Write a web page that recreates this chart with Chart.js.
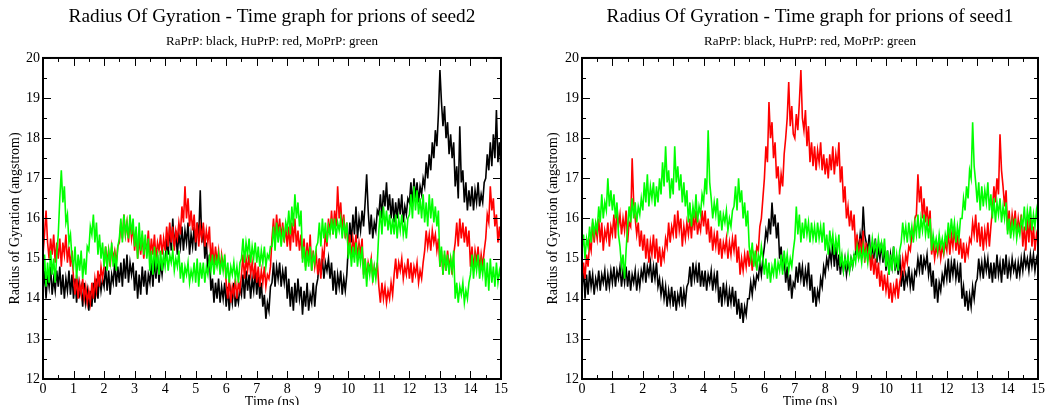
<!DOCTYPE html>
<html>
<head>
<meta charset="utf-8">
<script src="https://cdn.jsdelivr.net/npm/chart.js@4.4.1/dist/chart.umd.min.js"></script>
<style>
  html, body { margin: 0; padding: 0; background: #fff; overflow: hidden; }
  .panel { position: absolute; top: 0; height: 412px; }
  #left { left: 0; width: 520px; }
  #right { left: 538px; width: 509px; }
</style>
</head>
<body>
<div class="panel" id="left"><canvas id="seed2Chart"></canvas></div>
<div class="panel" id="right"><canvas id="seed1Chart"></canvas></div>
<script>
// sample times (ns), one point every 0.05 ns -> 301 points
const times = [];
for (let i = 0; i <= 300; i++) times.push(i / 20);

const xTicks = [0, 1, 2, 3, 4, 5, 6, 7, 8, 9, 10, 11, 12, 13, 14, 15];
const yTicks = [12, 13, 14, 15, 16, 17, 18, 19, 20];

// seed2 (left panel), radius of gyration in angstrom, one row = 0.5 ns
const seed2Black = [
  14.2, 14.7, 14.0, 14.6, 14.3, 14.8, 14.1, 14.5, 14.2, 14.7,
  14.3, 14.8, 14.1, 14.6, 14.0, 14.5, 14.2, 14.7, 14.1, 14.6,
  14.0, 14.5, 13.9, 14.4, 14.1, 14.3, 13.8, 14.4, 13.9, 14.2,
  13.7, 14.2, 13.8, 14.4, 13.9, 14.5, 14.0, 14.6, 14.2, 14.5,
  14.3, 14.8, 14.2, 14.7, 14.1, 14.6, 14.4, 14.9, 14.3, 14.8,
  14.4, 14.9, 14.3, 15.0, 14.5, 15.1, 14.4, 14.9, 14.6, 14.9,
  14.2, 14.7, 14.0, 14.6, 14.1, 14.8, 14.3, 14.7, 14.1, 14.6,
  14.4, 14.9, 14.3, 15.0, 14.5, 15.1, 14.4, 14.9, 14.6, 15.0,
  14.9, 15.5, 15.1, 15.8, 15.2, 16.0, 15.3, 15.7, 15.1, 15.6,
  15.3, 15.8, 15.2, 15.7, 15.4, 15.9, 15.1, 15.6, 15.3, 15.8,
  15.2, 15.9, 15.5, 16.7, 15.4, 15.8, 15.0, 15.4, 14.7, 15.1,
  14.2, 14.5, 13.9, 14.4, 14.0, 14.5, 13.9, 14.3, 14.0, 14.4,
  13.8, 14.3, 13.7, 14.2, 13.9, 14.4, 13.8, 14.1, 13.9, 14.3,
  14.1, 14.6, 14.0, 14.7, 14.2, 14.6, 14.0, 14.5, 14.2, 14.7,
  14.1, 14.6, 14.0, 14.4, 13.8, 14.1, 13.5, 13.9, 13.7, 14.3,
  14.4, 14.9, 14.3, 14.8, 14.5, 14.9, 14.3, 14.7, 14.4, 14.8,
  14.0, 14.5, 13.8, 14.3, 13.7, 14.4, 13.9, 14.5, 14.0, 14.3,
  13.6, 14.2, 13.8, 14.4, 13.7, 14.1, 13.9, 14.4, 13.8, 14.3,
  14.5, 15.0, 14.6, 15.0, 14.5, 14.9, 14.7, 15.0, 14.5, 14.9,
  14.2, 14.7, 14.1, 14.6, 14.3, 14.7, 14.1, 14.5, 14.2, 14.6,
  15.3, 15.9, 15.4, 16.1, 15.6, 16.3, 15.5, 16.0, 15.7, 16.2,
  15.8, 16.4, 17.1, 16.2, 15.6, 16.1, 15.5, 15.9, 15.7, 16.2,
  16.1, 16.6, 16.0, 16.7, 16.3, 16.9, 16.2, 16.6, 16.0, 16.5,
  15.9, 16.4, 16.0, 16.5, 16.1, 16.6, 15.9, 16.3, 16.1, 16.5,
  16.4, 16.9, 16.3, 17.0, 16.5, 16.9, 16.4, 16.8, 16.6, 17.0,
  16.8, 17.4, 17.0, 17.6, 17.2, 17.9, 17.5, 18.2, 17.8, 18.6,
  19.7, 18.9, 18.3, 18.8, 18.0, 18.4, 17.6, 18.1, 17.5, 17.9,
  16.8, 17.3, 16.5, 18.3, 16.9, 17.2, 16.4, 16.9, 16.2, 16.7,
  16.3, 16.8, 16.2, 16.7, 16.4, 16.9, 16.3, 16.6, 16.4, 16.9,
  17.0, 17.6, 17.2, 17.9, 17.3, 18.1, 17.5, 18.7, 17.4, 17.9,
  17.2
];
const seed2Red = [
  15.1, 15.6, 16.2, 15.4, 15.0, 15.5, 15.1, 15.6, 14.9, 15.4,
  15.0, 15.5, 14.8, 15.4, 15.1, 15.6, 14.9, 15.3, 14.8, 15.2,
  14.5, 14.1, 14.6, 14.0, 14.4, 14.1, 14.5, 14.0, 14.3, 13.9,
  14.2, 13.9, 14.4, 14.0, 14.5, 14.2, 14.7, 14.3, 14.8, 14.5,
  14.8, 15.3, 14.9, 15.2, 14.8, 15.3, 15.0, 15.2, 14.9, 15.3,
  15.4, 15.9, 15.5, 16.1, 15.6, 15.9, 15.4, 16.0, 15.5, 15.8,
  15.2, 15.7, 15.0, 15.5, 15.1, 15.6, 15.0, 15.4, 15.2, 15.7,
  15.0, 15.5, 15.1, 15.6, 15.0, 15.4, 15.2, 15.6, 15.1, 15.5,
  15.2, 15.8, 15.3, 15.9, 15.4, 15.8, 15.2, 15.7, 15.5, 15.9,
  15.6, 16.3, 15.9, 16.8, 16.0, 16.5, 15.8, 16.2, 15.7, 16.1,
  15.4, 15.9, 15.3, 15.8, 15.5, 15.9, 15.3, 15.7, 15.4, 15.8,
  14.9, 15.4, 14.8, 15.3, 14.9, 15.2, 14.7, 15.1, 14.8, 15.0,
  14.4, 14.0, 14.5, 13.9, 14.3, 14.1, 14.5, 14.0, 14.4, 14.2,
  14.6, 15.1, 14.5, 15.0, 14.7, 15.1, 14.6, 14.9, 14.5, 14.9,
  14.4, 14.8, 14.3, 14.7, 14.4, 14.8, 14.3, 14.6, 14.5, 14.8,
  15.5, 16.0, 15.4, 16.1, 15.6, 16.0, 15.5, 15.9, 15.4, 15.8,
  15.3, 15.8, 15.2, 15.9, 15.4, 16.0, 15.3, 15.7, 15.2, 15.6,
  15.0, 15.5, 14.8, 15.4, 14.9, 15.6, 14.7, 15.2, 14.8, 15.1,
  14.6, 15.0, 14.5, 15.2, 15.0, 15.7, 15.3, 16.0, 15.6, 16.2,
  15.6, 16.2, 15.8, 16.8, 16.0, 16.4, 15.7, 16.1, 15.5, 15.9,
  15.1, 15.6, 15.0, 15.5, 15.2, 15.6, 15.0, 15.4, 15.1, 15.5,
  14.6, 15.0, 14.5, 14.9, 14.7, 15.0, 14.5, 14.8, 14.6, 14.9,
  14.3, 13.9, 14.4, 14.0, 14.3, 13.9, 14.2, 14.0, 14.4, 14.1,
  14.6, 15.0, 14.5, 14.9, 14.7, 15.0, 14.5, 14.8, 14.6, 15.0,
  14.5, 14.9, 14.4, 14.8, 14.6, 14.9, 14.4, 14.7, 14.5, 14.9,
  15.2, 15.7, 15.3, 15.6, 15.2, 15.7, 15.4, 15.6, 15.2, 15.5,
  14.8, 15.2, 14.6, 15.1, 14.7, 15.2, 14.8, 15.0, 14.6, 15.1,
  15.4, 15.9, 15.3, 16.0, 15.5, 15.9, 15.4, 15.8, 15.3, 15.7,
  14.8, 15.3, 14.7, 15.2, 14.9, 15.3, 14.7, 15.1, 14.8, 15.2,
  15.5, 16.1, 15.9, 16.8, 16.2, 16.5, 15.8, 16.1, 15.4, 15.8,
  15.3
];
const seed2Green = [
  14.5, 15.1, 14.3, 14.9, 14.4, 15.2, 14.6, 15.0, 14.4, 15.1,
  15.6, 16.5, 17.2, 16.4, 16.8, 15.9, 16.1, 15.4, 15.6, 15.0,
  14.8, 15.3, 14.5, 15.1, 14.7, 15.2, 14.5, 15.0, 14.6, 15.3,
  15.2, 15.8, 15.6, 16.1, 15.4, 15.9, 15.1, 15.6, 15.0, 15.4,
  14.8, 15.3, 14.7, 15.2, 14.9, 15.4, 14.8, 15.1, 14.7, 15.3,
  15.5, 16.0, 15.4, 16.1, 15.6, 15.9, 15.5, 16.1, 15.6, 16.0,
  15.3, 15.8, 15.0, 15.9, 15.2, 15.7, 15.1, 15.6, 15.0, 15.5,
  14.7, 15.2, 14.6, 15.3, 14.8, 15.1, 14.6, 15.2, 14.7, 15.1,
  14.8, 15.2, 14.7, 15.1, 14.9, 15.2, 14.7, 15.0, 14.8, 15.2,
  14.5, 14.9, 14.4, 14.8, 14.6, 14.9, 14.4, 14.7, 14.5, 14.9,
  14.4, 15.0, 14.3, 14.9, 14.5, 14.9, 14.4, 14.8, 14.6, 15.0,
  14.7, 15.1, 14.6, 15.0, 14.8, 15.1, 14.6, 15.0, 14.7, 15.1,
  14.5, 14.9, 14.4, 14.8, 14.6, 14.9, 14.5, 14.8, 14.4, 14.9,
  15.0, 15.5, 14.9, 15.4, 15.1, 15.5, 14.9, 15.3, 15.0, 15.4,
  14.9, 15.3, 14.8, 15.2, 14.9, 15.3, 14.8, 15.1, 15.0, 15.3,
  15.3, 15.8, 15.2, 15.9, 15.4, 15.8, 15.3, 15.7, 15.5, 15.9,
  15.7, 16.2, 15.6, 16.3, 15.8, 16.6, 16.0, 16.4, 15.8, 16.2,
  14.9, 15.3, 14.7, 15.2, 14.8, 15.3, 14.7, 15.1, 14.9, 15.3,
  15.4, 15.9, 15.3, 16.0, 15.5, 15.9, 15.4, 15.8, 15.6, 16.0,
  15.6, 16.0, 15.5, 15.9, 15.7, 16.0, 15.5, 15.9, 15.6, 15.9,
  15.0, 15.4, 14.8, 15.3, 14.9, 15.4, 14.8, 15.2, 14.9, 15.3,
  14.5, 15.0, 14.3, 14.9, 14.6, 15.0, 14.4, 14.8, 14.5, 14.9,
  15.7, 16.2, 15.6, 16.3, 15.8, 16.2, 15.7, 16.1, 15.6, 16.0,
  15.6, 16.1, 15.5, 16.0, 15.7, 16.1, 15.6, 15.9, 15.5, 16.0,
  16.1, 16.6, 16.0, 16.8, 16.2, 16.7, 16.1, 16.5, 16.0, 16.6,
  15.9, 16.4, 15.8, 16.6, 16.0, 16.5, 15.9, 16.3, 15.8, 16.2,
  14.8, 15.3, 14.6, 15.2, 14.7, 15.1, 14.6, 15.0, 14.7, 15.2,
  14.0, 14.4, 13.9, 14.3, 14.1, 14.4, 13.9, 14.2, 14.0, 14.4,
  14.6, 15.1, 14.5, 15.0, 14.7, 15.1, 14.5, 14.9, 14.6, 15.0,
  14.3, 14.9, 14.2, 15.0, 14.4, 14.8, 14.3, 14.9, 14.4, 14.7,
  14.5
];

// seed1 (right panel)
const seed1Black = [
  14.2, 14.8, 14.0, 14.6, 14.1, 14.7, 14.3, 14.6, 14.1, 14.5,
  14.3, 14.7, 14.2, 14.6, 14.4, 14.7, 14.2, 14.6, 14.3, 14.7,
  14.4, 14.8, 14.3, 14.7, 14.5, 14.8, 14.3, 14.7, 14.4, 14.8,
  14.3, 14.7, 14.2, 14.6, 14.4, 14.7, 14.2, 14.6, 14.3, 14.7,
  14.5, 14.9, 14.4, 14.8, 14.6, 14.9, 14.4, 14.8, 14.5, 14.9,
  14.3, 14.5, 14.1, 14.4, 14.0, 14.3, 13.8, 14.2, 13.9, 14.3,
  13.8, 14.2, 13.7, 14.1, 13.9, 14.3, 13.8, 14.2, 13.9, 14.3,
  14.4, 14.8, 14.3, 14.9, 14.5, 14.8, 14.4, 14.9, 14.3, 14.7,
  14.3, 14.7, 14.2, 14.6, 14.4, 14.7, 14.2, 14.6, 14.3, 14.7,
  13.9, 14.3, 13.8, 14.4, 14.0, 14.3, 13.8, 14.2, 13.9, 14.3,
  13.8, 14.2, 13.6, 14.0, 13.5, 13.9, 13.4, 13.8, 13.6, 14.0,
  14.0, 14.4, 14.1, 14.5, 14.3, 14.6, 14.5, 14.9, 14.6, 15.0,
  15.3, 15.7, 15.5, 16.0, 15.6, 16.4, 15.8, 16.1, 15.5, 15.9,
  15.0, 15.3, 14.7, 15.1, 14.4, 14.8, 14.2, 14.6, 14.0, 14.4,
  14.3, 14.8, 14.4, 14.9, 14.5, 14.8, 14.3, 14.7, 14.4, 14.9,
  14.2, 14.6, 13.9, 14.3, 13.8, 14.2, 14.0, 14.5, 14.3, 14.8,
  14.6, 15.0, 14.8, 15.2, 14.9, 15.4, 14.8, 15.3, 14.7, 15.1,
  14.6, 15.0, 14.7, 15.0, 14.6, 14.9, 14.7, 15.0, 14.8, 15.1,
  15.1, 15.5, 15.2, 15.6, 15.3, 16.3, 15.6, 15.4, 15.2, 15.6,
  14.9, 15.4, 15.0, 15.5, 14.9, 15.3, 15.0, 15.4, 14.9, 15.3,
  14.7, 15.2, 14.6, 15.1, 14.8, 15.3, 14.7, 15.0, 14.6, 15.1,
  14.3, 14.7, 14.2, 14.6, 14.4, 14.8, 14.3, 14.6, 14.2, 14.7,
  14.6, 15.0, 14.7, 15.1, 14.6, 15.0, 14.8, 15.1, 14.6, 14.9,
  14.3, 14.7, 14.0, 14.5, 13.9, 14.4, 14.2, 14.6, 14.4, 14.8,
  14.5, 15.0, 14.4, 14.9, 14.6, 15.0, 14.5, 14.8, 14.4, 14.9,
  14.0, 14.3, 13.8, 14.2, 13.7, 14.1, 13.8, 14.3, 14.0, 14.4,
  14.5, 15.0, 14.6, 14.9, 14.5, 15.0, 14.7, 15.0, 14.5, 14.9,
  14.4, 14.9, 14.5, 15.1, 14.6, 14.9, 14.4, 15.0, 14.6, 15.1,
  14.5, 14.9, 14.6, 15.0, 14.7, 14.9, 14.5, 14.9, 14.6, 15.0,
  14.7, 15.1, 14.8, 15.0, 14.7, 15.1, 14.8, 15.1, 14.7, 15.0,
  14.8
];
const seed1Red = [
  14.4, 14.9, 14.5, 15.1, 14.8, 15.4, 15.2, 15.9, 15.4, 15.8,
  15.5, 16.0, 15.4, 15.9, 15.2, 15.7, 15.5, 15.9, 15.3, 15.8,
  15.6, 16.1, 15.5, 16.3, 15.8, 16.1, 15.6, 16.0, 15.7, 16.2,
  15.4, 15.9, 15.8, 17.5, 16.4, 16.0, 15.6, 15.9, 15.3, 15.7,
  15.2, 15.6, 15.0, 15.5, 14.9, 15.4, 15.1, 15.6, 15.0, 15.5,
  14.9, 15.3, 14.8, 15.2, 15.0, 15.5, 15.3, 15.9, 15.4, 15.8,
  15.6, 16.1, 15.5, 16.2, 15.7, 16.0, 15.3, 15.8, 15.5, 15.9,
  15.6, 16.0, 15.5, 16.1, 15.7, 16.2, 15.6, 15.9, 15.7, 16.2,
  15.8, 16.2, 15.6, 16.0, 15.4, 15.8, 15.2, 15.6, 15.3, 15.7,
  15.1, 15.5, 15.0, 15.4, 15.2, 15.5, 15.0, 15.4, 15.1, 15.5,
  15.2, 15.6, 14.9, 15.3, 14.6, 15.0, 14.7, 15.1, 14.8, 15.2,
  14.8, 15.2, 14.7, 15.1, 14.9, 15.3, 15.2, 15.8, 16.0, 16.5,
  17.0, 17.8, 17.4, 18.9, 18.0, 18.4, 17.5, 17.9, 17.0, 17.3,
  16.6, 17.1, 16.8, 17.6, 18.0, 18.5, 19.4, 18.3, 18.8, 18.1,
  18.0, 18.6, 18.2, 18.9, 19.7, 18.5, 18.2, 18.7, 17.8, 18.3,
  17.4, 17.9, 17.3, 17.8, 17.2, 17.7, 17.4, 17.9, 17.2, 17.6,
  17.1, 17.5, 17.0, 17.6, 17.2, 17.8, 17.1, 17.6, 17.3, 17.9,
  16.9, 17.3, 16.4, 16.8, 16.0, 16.3, 15.8, 16.2, 15.7, 16.1,
  15.2, 15.6, 15.0, 15.5, 15.1, 15.7, 14.9, 15.4, 15.0, 15.3,
  14.7, 15.1, 14.6, 15.0, 14.5, 14.9, 14.3, 14.7, 14.2, 14.6,
  14.2, 14.5, 14.0, 14.4, 13.9, 14.3, 14.1, 14.5, 14.0, 14.4,
  14.6, 15.0, 14.7, 15.1, 14.9, 15.3, 15.2, 15.6, 15.5, 16.0,
  16.1, 17.1, 16.4, 16.8, 16.0, 16.5, 15.9, 16.3, 15.8, 16.2,
  15.1, 15.4, 15.0, 15.3, 15.1, 15.4, 15.0, 15.3, 15.1, 15.4,
  15.2, 15.7, 15.1, 15.6, 15.3, 15.8, 15.2, 15.6, 15.1, 15.5,
  15.0, 15.4, 14.9, 15.3, 15.1, 15.5, 15.4, 15.9, 15.6, 16.1,
  15.4, 15.9, 15.3, 15.8, 15.2, 15.7, 15.4, 15.9, 15.3, 15.8,
  16.2, 16.8, 16.4, 17.0, 16.6, 18.1, 17.2, 16.8, 16.3, 16.7,
  15.7, 16.2, 15.6, 16.1, 15.8, 16.2, 15.6, 16.0, 15.7, 16.1,
  15.3, 15.8, 15.2, 16.0, 15.4, 16.1, 15.3, 15.8, 15.2, 15.6,
  15.4
];
const seed1Green = [
  15.2, 15.6, 15.0, 15.5, 15.3, 15.8, 15.4, 16.0, 15.6, 15.9,
  15.7, 16.3, 15.9, 16.6, 16.0, 16.4, 16.2, 17.0, 16.3, 16.7,
  16.2, 16.6, 16.0, 16.4, 15.6, 15.3, 14.8, 15.1, 14.5, 15.2,
  15.8, 16.3, 15.9, 16.5, 16.0, 16.4, 15.9, 16.3, 16.1, 16.5,
  16.2, 16.9, 16.4, 17.1, 16.3, 16.8, 16.5, 16.9, 16.3, 16.8,
  16.4, 17.0, 16.6, 17.4, 16.8, 17.8, 16.9, 17.2, 16.5, 17.0,
  16.6, 17.8, 16.9, 17.3, 16.7, 17.1, 16.4, 16.9, 16.3, 16.7,
  15.9, 16.4, 15.8, 16.3, 16.0, 16.6, 15.9, 16.3, 16.1, 16.6,
  16.4, 17.0, 16.6, 18.2, 16.9, 16.5, 16.0, 16.4, 16.1, 16.5,
  15.8, 16.2, 15.7, 16.1, 15.9, 16.2, 15.7, 16.0, 15.8, 16.2,
  16.3, 16.8, 16.2, 17.0, 16.4, 16.7, 16.0, 16.4, 15.8, 16.2,
  15.3, 15.0, 15.4, 14.8, 15.2, 14.7, 15.1, 14.9, 15.3, 15.0,
  14.6, 15.0, 14.5, 14.9, 14.4, 14.8, 14.6, 15.0, 14.5, 14.9,
  14.7, 15.1, 14.6, 15.2, 14.8, 15.1, 14.7, 15.0, 14.8, 15.2,
  15.5, 16.3, 15.6, 16.1, 15.4, 15.9, 15.5, 16.0, 15.6, 15.9,
  15.4, 15.9, 15.5, 15.8, 15.4, 15.9, 15.5, 15.8, 15.4, 15.9,
  15.2, 15.6, 15.1, 15.7, 15.3, 15.6, 15.1, 15.5, 15.2, 15.6,
  14.8, 15.1, 14.7, 15.0, 14.8, 15.1, 14.7, 15.0, 14.8, 15.1,
  14.9, 15.3, 15.0, 15.2, 14.9, 15.3, 15.0, 15.2, 14.9, 15.3,
  15.1, 15.5, 15.2, 15.4, 15.1, 15.5, 15.2, 15.4, 15.1, 15.5,
  14.8, 15.2, 14.6, 15.1, 14.7, 15.3, 14.8, 15.1, 14.7, 15.2,
  15.4, 15.9, 15.5, 15.8, 15.4, 15.9, 15.5, 15.8, 15.4, 15.9,
  15.6, 16.1, 15.5, 16.0, 15.7, 16.1, 15.6, 15.9, 15.5, 16.0,
  15.2, 15.6, 15.3, 15.5, 15.2, 15.6, 15.3, 15.5, 15.2, 15.6,
  15.4, 15.9, 15.5, 16.0, 15.6, 15.9, 15.4, 15.8, 15.5, 16.0,
  16.0, 16.5, 16.2, 16.8, 16.5, 17.2, 17.0, 18.4, 17.3, 16.9,
  16.4, 16.9, 16.2, 16.8, 16.3, 16.7, 16.4, 16.9, 16.2, 16.6,
  16.0, 16.5, 15.9, 16.4, 16.1, 16.5, 15.9, 16.3, 16.0, 16.4,
  15.6, 16.0, 15.5, 15.9, 15.6, 16.0, 15.5, 15.8, 15.6, 16.0,
  15.8, 16.3, 15.7, 16.2, 15.9, 16.3, 15.7, 16.1, 15.8, 16.2,
  15.9
];

const FONT = "'Liberation Serif', 'Times New Roman', serif";

// frame + inward ticks (major every 1, minor every 0.5) on all four sides
const frameTicks = {
  id: "frameTicks",
  afterDatasetsDraw(chart) {
    const { ctx, chartArea: a, scales } = chart;
    ctx.save();
    ctx.strokeStyle = "#000";
    ctx.lineWidth = 1;
    ctx.beginPath();
    for (let v = 0; v <= 15; v += 0.5) {
      const px = Math.round(scales.x.getPixelForValue(v)) + 0.5;
      const len = v % 1 === 0 ? 8 : 4;
      ctx.moveTo(px, a.bottom);
      ctx.lineTo(px, a.bottom - len);
      ctx.moveTo(px, a.top);
      ctx.lineTo(px, a.top + len);
    }
    for (let v = 12; v <= 20; v += 0.5) {
      const py = Math.round(scales.y.getPixelForValue(v)) + 0.5;
      const len = v % 1 === 0 ? 8 : 4;
      ctx.moveTo(a.left, py);
      ctx.lineTo(a.left + len, py);
      ctx.moveTo(a.right, py);
      ctx.lineTo(a.right - len, py);
    }
    ctx.stroke();
    ctx.lineWidth = 2;
    ctx.strokeRect(a.left, a.top, a.right - a.left, a.bottom - a.top);
    ctx.restore();
  },
};

function series(values) {
  return values.map((v, i) => ({ x: times[i], y: v }));
}

function createChart(canvasId, title, black, red, green, yAxisWidth, rightPad) {
  const ctx = document.getElementById(canvasId).getContext("2d");
  new Chart(ctx, {
    type: "line",
    data: {
      datasets: [
        { label: "RaPrP", data: series(black), borderColor: "#000000", order: 3 },
        { label: "HuPrP", data: series(red), borderColor: "#ff0000", order: 2 },
        { label: "MoPrP", data: series(green), borderColor: "#00ff00", order: 1 },
      ],
    },
    options: {
      responsive: true,
      maintainAspectRatio: false,
      animation: false,
      elements: {
        point: { radius: 0 },
        line: { borderWidth: 1.6, tension: 0 },
      },
      layout: { padding: { left: 0, right: rightPad, top: 0, bottom: 0 } },
      plugins: {
        legend: { display: false },
        tooltip: { enabled: false },
        title: {
          display: true,
          text: title,
          fullSize: false,
          color: "#000",
          font: { family: FONT, size: 19.3, weight: "normal" },
          padding: { top: 5.5, bottom: 5.5 },
        },
        subtitle: {
          display: true,
          text: "RaPrP: black, HuPrP: red, MoPrP: green",
          fullSize: false,
          color: "#000",
          font: { family: FONT, size: 13 },
          padding: { top: 0, bottom: 8.2 },
        },
      },
      scales: {
        x: {
          type: "linear",
          min: 0,
          max: 15,
          afterBuildTicks: (s) => { s.ticks = xTicks.map((v) => ({ value: v })); },
          ticks: { padding: 2, color: "#000", font: { family: FONT, size: 14 }, maxRotation: 0, autoSkip: false },
          grid: { display: false, drawTicks: false },
          border: { display: false },
          title: {
            display: true,
            text: "Time (ns)",
            color: "#000",
            font: { family: FONT, size: 14 },
            padding: { top: 0, bottom: 1.6 },
          },
          afterFit: (s) => { s.height = 33; },
        },
        y: {
          type: "linear",
          min: 12,
          max: 20,
          afterBuildTicks: (s) => { s.ticks = yTicks.map((v) => ({ value: v })); },
          ticks: { padding: 3, color: "#000", font: { family: FONT, size: 14 } },
          grid: { display: false, drawTicks: false },
          border: { display: false },
          title: {
            display: true,
            text: "Radius of Gyration (angstrom)",
            color: "#000",
            font: { family: FONT, size: 14 },
            padding: { top: 6.6, bottom: 0 },
          },
          afterFit: (s) => { s.width = yAxisWidth; },
        },
      },
    },
    plugins: [frameTicks],
  });
}

createChart("seed2Chart", "Radius Of Gyration - Time graph for prions of seed2",
  seed2Black, seed2Red, seed2Green, 43, 19);
createChart("seed1Chart", "Radius Of Gyration - Time graph for prions of seed1",
  seed1Black, seed1Red, seed1Green, 44, 8);
</script>
</body>
</html>
